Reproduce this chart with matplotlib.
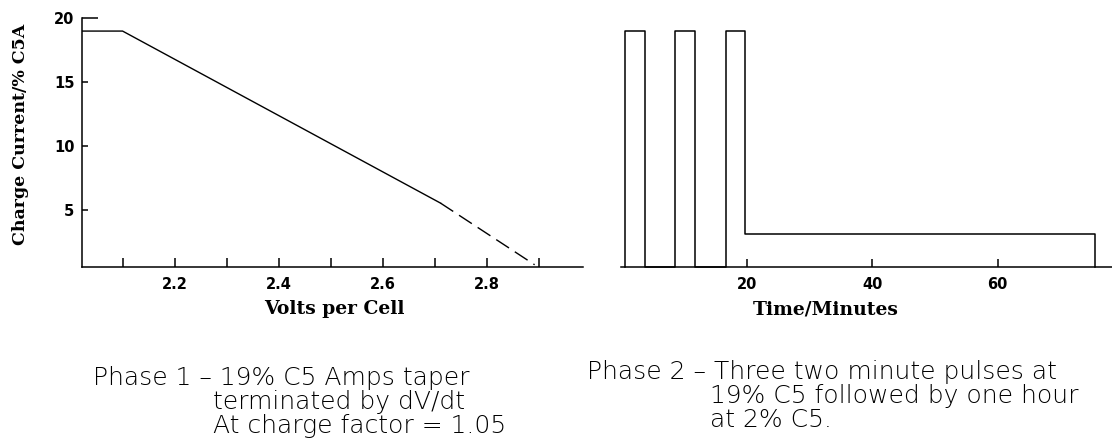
import matplotlib
matplotlib.use("Agg")
import matplotlib.pyplot as plt
import numpy as np

# Phase 1: taper curve (volts per cell vs charge current % C5A)
taper_v = [2.022, 2.10, 2.711]
taper_i = [19.0, 19.0, 5.53]
tail_v = [2.711, 2.892]
tail_i = [5.53, 0.7]

# Phase 2: pulses (minutes)
pulse_on = [0.6, 8.5, 16.75]
pulse_off = [3.85, 11.8, 19.8]
pulse_level = 19.0
hold_level = 3.1
hold_end = 75.5

left_major = [2.2, 2.4, 2.6, 2.8]
left_minor = [2.1, 2.3, 2.5, 2.7, 2.9]
y_minor = [5, 10, 15]
right_ticks = [20, 40, 60]

W, H = 1112, 440
fig = plt.figure(figsize=(W / 100, H / 100), dpi=100)

ybot, ytop = 0.5, 20.0
tickfont = dict(family="DejaVu Sans", weight="bold", size=10.5)
serif = dict(family="DejaVu Serif", weight="bold")
cap = dict(family="DejaVu Sans", weight="light", size=18, color="black")

def px(x, y):
    return x / W, 1 - y / H

# ---- left panel
ax1 = fig.add_axes([82 / W, 1 - 267.3 / H, 501 / W, (267.3 - 18.3) / H])
ax1.plot(taper_v, taper_i, color="black", lw=1.0)
ax1.plot(tail_v, tail_i, color="black", lw=1.0, linestyle=(0, (11, 5)))
ax1.set_xlim(2.022, 2.985)
ax1.set_ylim(ybot, ytop)
for s in ["top", "right"]:
    ax1.spines[s].set_visible(False)
for s in ["left", "bottom"]:
    ax1.spines[s].set_linewidth(1.1)

ax1.set_xticks(left_major)
ax1.set_xticklabels([f"{v:.1f}" for v in left_major], fontdict=tickfont)
ax1.set_xticks(left_minor, minor=True)
ax1.tick_params(axis="x", which="both", direction="in", length=6.5, width=1.1, pad=7)

ax1.set_yticks([20])
ax1.set_yticklabels(["20"], fontdict=tickfont)
ax1.set_yticks(y_minor, minor=True)
ax1.set_yticklabels([str(v) for v in y_minor], minor=True, fontdict=tickfont)
ax1.tick_params(axis="y", which="major", direction="in", length=11.5, width=1.1, pad=5.5)
ax1.tick_params(axis="y", which="minor", direction="in", length=4.5, width=1.1, pad=5.5)

# ---- right panel
t = []
c = []
for on, off in zip(pulse_on, pulse_off):
    t += [on, on, off]
    c += [ybot, pulse_level, pulse_level]
    if off != pulse_off[-1]:
        t += [off]
        c += [ybot]
t += [pulse_off[-1], hold_end, hold_end]
c += [hold_level, hold_level, ybot]

ax2 = fig.add_axes([621.2 / W, 1 - 267.3 / H, (W - 621.2) / W, (267.3 - 18.3) / H])
ax2.plot(t, c, color="black", lw=1.1, clip_on=False)
ax2.set_xlim(0, (W - 621.2) / 6.275)
ax2.set_ylim(ybot, ytop)
for s in ["top", "right", "left"]:
    ax2.spines[s].set_visible(False)
ax2.spines["bottom"].set_linewidth(1.1)
ax2.set_yticks([])
ax2.set_xticks(right_ticks)
ax2.set_xticklabels([str(v) for v in right_ticks], fontdict=tickfont)
ax2.tick_params(axis="x", direction="in", length=6, width=1.1, pad=7)

# ---- labels
fig.text(*px(21, 134), "Charge Current/% C5A", rotation=90, ha="center", va="center", size=12.5, **serif)
fig.text(*px(334, 309), "Volts per Cell", ha="center", va="center", size=13.5, **serif)
fig.text(*px(826, 309), "Time/Minutes", ha="center", va="center", size=13.5, **serif)

fig.text(*px(93, 378), "Phase 1 \u2013 19% C5 Amps taper", ha="left", va="center", **cap)
fig.text(*px(213, 402), "terminated by dV/dt", ha="left", va="center", **cap)
fig.text(*px(213, 426), "At charge factor = 1.05", ha="left", va="center", **cap)

fig.text(*px(587, 372), "Phase 2 \u2013 Three two minute pulses at", ha="left", va="center", **cap)
fig.text(*px(710, 396), "19% C5 followed by one hour", ha="left", va="center", **cap)
fig.text(*px(710, 420), "at 2% C5.", ha="left", va="center", **cap)

fig.savefig("out.png", dpi=100)
